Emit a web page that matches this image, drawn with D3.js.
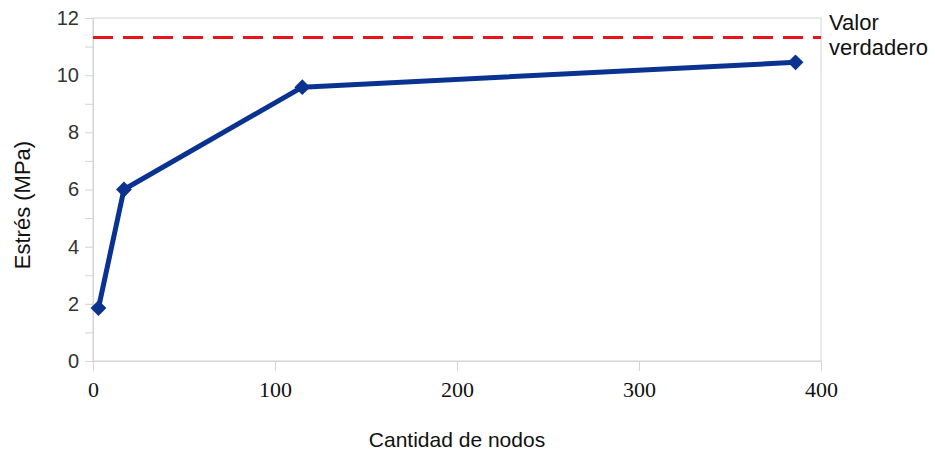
<!DOCTYPE html>
<html><head><meta charset="utf-8">
<script src="https://cdn.jsdelivr.net/npm/d3@7"></script>
<style>body{margin:0;background:#fff}svg{display:block}</style>
</head><body>
<svg id="c" width="935" height="450"></svg>
<script>
const nodes = [3, 17, 115, 386];
const stress = [1.85, 6.0, 9.58, 10.45];
const trueValue = 11.32;
const xTicks = [0, 100, 200, 300, 400];
const yTicks = [0, 2, 4, 6, 8, 10, 12];
const yMinorTicks = [1, 3, 5, 7, 9, 11];
const seriesLabel = ["Valor", "verdadero"];
const xTitle = "Cantidad de nodos";
const yTitle = "Estrés (MPa)";

const svg = d3.select("#c");
const m = {l: 93, r: 821, t: 18, b: 361};
const x = d3.scaleLinear().domain([0, 400]).range([m.l, m.r]);
const y = d3.scaleLinear().domain([0, 12]).range([m.b, m.t]);
const grid = "#d4d4d4";
const sans = "'Liberation Sans', Arial, sans-serif";
const serif = "'Liberation Serif', 'Times New Roman', serif";

// plot frame
svg.append("rect").attr("x", m.l).attr("y", m.t).attr("width", m.r - m.l).attr("height", m.b - m.t)
  .attr("fill", "none").attr("stroke", grid).attr("stroke-width", 1);

// y axis
const ya = svg.append("g").attr("transform", `translate(${m.l},0)`)
  .call(d3.axisLeft(y).tickValues(yTicks).tickSize(8).tickPadding(6));
ya.select(".domain").attr("stroke", grid);
ya.selectAll(".tick line").attr("stroke", grid);
ya.selectAll("text").style("font-family", sans).style("font-size", "20px").style("fill", "#333");
svg.append("g").attr("transform", `translate(${m.l},0)`)
  .call(d3.axisLeft(y).tickValues(yMinorTicks).tickSize(8).tickFormat(""))
  .call(g => { g.select(".domain").remove(); g.selectAll(".tick line").attr("stroke", grid); });

// x axis
const xa = svg.append("g").attr("transform", `translate(0,${m.b})`)
  .call(d3.axisBottom(x).tickValues(xTicks).tickSize(10).tickPadding(10));
xa.select(".domain").attr("stroke", grid);
xa.selectAll(".tick line").attr("stroke", grid);
xa.selectAll("text").style("font-family", serif).style("font-size", "22px").style("fill", "#111");

// true value line
svg.append("line").attr("x1", x(0)).attr("x2", x(400)).attr("y1", y(trueValue)).attr("y2", y(trueValue))
  .attr("stroke", "#e8141b").attr("stroke-width", 3).attr("stroke-dasharray", "20,10");

// series
const pts = nodes.map((n, i) => [n, stress[i]]);
svg.append("path").datum(pts)
  .attr("d", d3.line().x(d => x(d[0])).y(d => y(d[1])))
  .attr("fill", "none").attr("stroke", "#0a3391").attr("stroke-width", 5).attr("stroke-linejoin", "round");
svg.selectAll(".mk").data(pts).join("path").attr("class", "mk")
  .attr("transform", d => `translate(${x(d[0])},${y(d[1])})`)
  .attr("d", d3.symbol(d3.symbolDiamond2, 160))
  .attr("fill", "#0a3391");

// legend label
svg.append("text").style("font-family", sans).style("font-size", "22px").style("fill", "#111")
  .selectAll("tspan").data(seriesLabel).join("tspan")
  .attr("x", 829).attr("y", (d, i) => 30 + i * 25).text(d => d);

// titles
svg.append("text").attr("x", 457).attr("y", 447).attr("text-anchor", "middle")
  .style("font-family", sans).style("font-size", "21px").style("fill", "#111").text(xTitle);
svg.append("text").attr("transform", `translate(30,205) rotate(-90)`).attr("text-anchor", "middle")
  .style("font-family", sans).style("font-size", "22px").style("fill", "#111").text(yTitle);
</script>
</body></html>
